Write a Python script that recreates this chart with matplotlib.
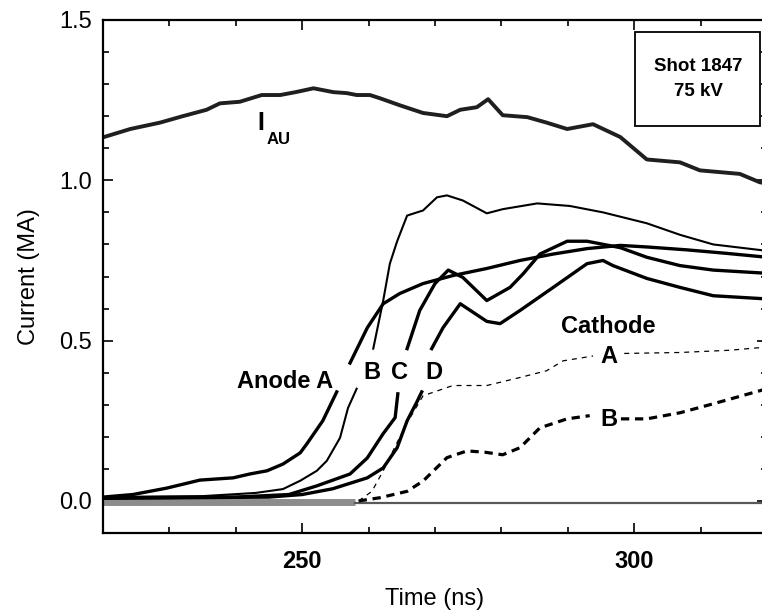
import numpy as np
import matplotlib
matplotlib.use("Agg")
import matplotlib.pyplot as plt
from matplotlib.ticker import MultipleLocator, FixedLocator
from matplotlib.patches import Rectangle

plt.rcParams['font.family'] = ['Liberation Sans', 'DejaVu Sans']

nan = np.nan

# I_AU
t_iau = [220, 224.1, 228.6, 232, 235.6, 237.6, 240.6, 243.9, 246.7, 249, 251.7, 254.7, 256.7, 258.2,
         260.2, 261.7, 264.7, 268.2, 271.8, 273.8, 276.3, 278.0, 280.2, 283.9, 286.8, 289.9, 293.8,
         297.9, 301.9, 306.9, 309.9, 315.9, 318.9, 320]
i_iau = [1.134, 1.16, 1.18, 1.20, 1.22, 1.24, 1.245, 1.266, 1.266, 1.275, 1.287, 1.275, 1.272, 1.266,
         1.266, 1.256, 1.234, 1.21, 1.20, 1.22, 1.228, 1.253, 1.203, 1.197, 1.18, 1.16, 1.175,
         1.135, 1.065, 1.056, 1.031, 1.02, 0.994, 0.99]

# Anode A
t_anA = [220, 224.5, 229.6, 234.6, 239.6, 242.1, 244.7, 247.1, 249.7, 250.7, 253.1, 255.2, nan,
         257.2, 259.8, 262.2, 264.7, 268.2, 272.7, 277.8, 282.8, 287.8, 292.9, 297.9, 302, 308, 314, 320]
i_anA = [0.012, 0.02, 0.04, 0.065, 0.072, 0.084, 0.094, 0.115, 0.15, 0.178, 0.25, 0.34, nan,
         0.43, 0.54, 0.615, 0.647, 0.678, 0.703, 0.725, 0.75, 0.77, 0.787, 0.797, 0.792, 0.783, 0.772, 0.76]

# Anode B
t_anB = [220, 235, 243, 247.1, 249.7, 252.2, 253.7, 255.7, 256.9, 258.2, nan, 260.7, 262.2, 263.2,
         264.3, 265.8, 268.2, 270.3, 271.8, 274.2, 277.8, 280.2, 285.4, 290.3, 295.3, 301.9, 306.9, 311.9, 320]
i_anB = [0.012, 0.015, 0.025, 0.037, 0.063, 0.094, 0.125, 0.197, 0.29, 0.35, nan, 0.475, 0.625, 0.74,
         0.81, 0.89, 0.906, 0.947, 0.953, 0.937, 0.897, 0.91, 0.928, 0.92, 0.9, 0.866, 0.83, 0.80, 0.78]

# Anode C
t_anC = [220, 240, 248, 252.2, 257.2, 259.8, 262.2, 264.0, 264.4, nan, 265.8, 267.7, 270.0, 272.0,
         274.2, 277.8, 281.3, 283.3, 285.8, 289.9, 292.9, 297.9, 301.9, 306.9, 311.9, 320]
i_anC = [0.01, 0.012, 0.02, 0.047, 0.084, 0.134, 0.21, 0.26, 0.334, nan, 0.475, 0.594, 0.678, 0.72,
         0.697, 0.625, 0.666, 0.709, 0.77, 0.81, 0.81, 0.79, 0.76, 0.734, 0.72, 0.71]

# Anode D
t_anD = [220, 245, 250, 254.6, 259.8, 262.2, 264.3, 265.8, 267.3, 268.0, nan, 269.5, 271.2, 273.8,
         277.8, 279.8, 282.8, 287.8, 292.9, 295.3, 296.8, 301.9, 306.9, 311.9, 320]
i_anD = [0.008, 0.012, 0.02, 0.038, 0.072, 0.103, 0.166, 0.25, 0.31, 0.34, nan, 0.475, 0.54, 0.615,
         0.56, 0.553, 0.594, 0.666, 0.74, 0.75, 0.734, 0.694, 0.666, 0.64, 0.63]

# Cathode A
t_caA = [258.5, 260.5, 262.2, 264, 265.8, 268.2, 272.7, 277.8, 282.8, 286.8, 289.3, 293.8, nan,
         298.5, 306.9, 314.4, 320]
i_caA = [0.0, 0.03, 0.094, 0.17, 0.244, 0.328, 0.36, 0.36, 0.385, 0.406, 0.437, 0.452, nan,
         0.46, 0.463, 0.47, 0.48]

# Cathode B
t_caB = [258.5, 261.7, 265.8, 268.2, 271.8, 274.8, 277.5, 280.2, 282.8, 285.8, 289.9, 293.3, nan,
         298.0, 301.9, 306.9, 311.9, 320]
i_caB = [0.0, 0.01, 0.03, 0.062, 0.135, 0.156, 0.152, 0.144, 0.166, 0.228, 0.256, 0.266, nan,
         0.256, 0.256, 0.275, 0.303, 0.35]

# zero baseline (overlapping traces near zero)
t_band = [220, 258]
i_band = [-0.004, -0.004]
t_zero = [258, 320]
i_zero = [-0.005, -0.005]

fig = plt.figure(figsize=(7.62, 6.15), dpi=100)
ax = fig.add_axes([103/762, 82/615, 664/762, 513/615])

ax.plot(t_band, i_band, color='0.55', lw=5.0, solid_capstyle='butt')
ax.plot(t_zero, i_zero, color='0.35', lw=1.6)

ax.plot(t_iau, i_iau, color='0.12', lw=2.8)
ax.plot(t_anA, i_anA, color='black', lw=2.4)
ax.plot(t_anB, i_anB, color='black', lw=1.5)
ax.plot(t_anC, i_anC, color='black', lw=2.4)
ax.plot(t_anD, i_anD, color='black', lw=2.4)
ax.plot(t_caA, i_caA, color='black', lw=0.9, dashes=(4, 4))
ax.plot(t_caB, i_caB, color='black', lw=2.3, dashes=(2.6, 1.8))

ax.set_xlim(220, 320)
ax.set_ylim(-0.1, 1.5)
ax.xaxis.set_major_locator(FixedLocator([250, 300]))
ax.xaxis.set_minor_locator(MultipleLocator(10))
ax.yaxis.set_major_locator(FixedLocator([0.0, 0.5, 1.0, 1.5]))
ax.yaxis.set_minor_locator(MultipleLocator(0.1))
ax.set_yticklabels(['0.0', '0.5', '1.0', '1.5'])
ax.set_xticklabels(['250', '300'], fontweight='bold')
ax.tick_params(which='both', direction='in', top=True, right=True, width=1.2, labelsize=17)
ax.tick_params(which='major', length=7)
ax.tick_params(which='minor', length=4)
ax.tick_params(axis='x', pad=12)
ax.tick_params(axis='y', pad=8)
for s in ax.spines.values():
    s.set_linewidth(1.6)

ax.set_xlabel('Time (ns)', fontsize=17, labelpad=11)
ax.set_ylabel('Current (MA)', fontsize=17, labelpad=14)

lab = dict(fontsize=17, fontweight='bold', ha='center', va='center')
ax.text(243.8, 1.18, 'I', fontsize=18, fontweight='bold', ha='center', va='center')
ax.text(246.4, 1.127, 'AU', fontsize=12, fontweight='bold', ha='center', va='center')
ax.text(247.4, 0.372, 'Anode A', **lab)
ax.text(260.5, 0.40, 'B', **lab)
ax.text(264.6, 0.40, 'C', **lab)
ax.text(269.85, 0.40, 'D', **lab)
ax.text(296.05, 0.544, 'Cathode', **lab)
ax.text(296.2, 0.45, 'A', **lab)
ax.text(296.2, 0.253, 'B', **lab)

ax.add_patch(Rectangle((0.801, 0.793), 0.188, 0.184, transform=ax.transAxes,
                       fill=False, ec='black', lw=1.3))
ax.text(0.896, 0.910, 'Shot 1847', transform=ax.transAxes, fontsize=13.5, fontweight='bold',
        ha='center', va='center')
ax.text(0.896, 0.860, '75 kV', transform=ax.transAxes, fontsize=13.5, fontweight='bold',
        ha='center', va='center')

fig.savefig('out.png', dpi=100)
